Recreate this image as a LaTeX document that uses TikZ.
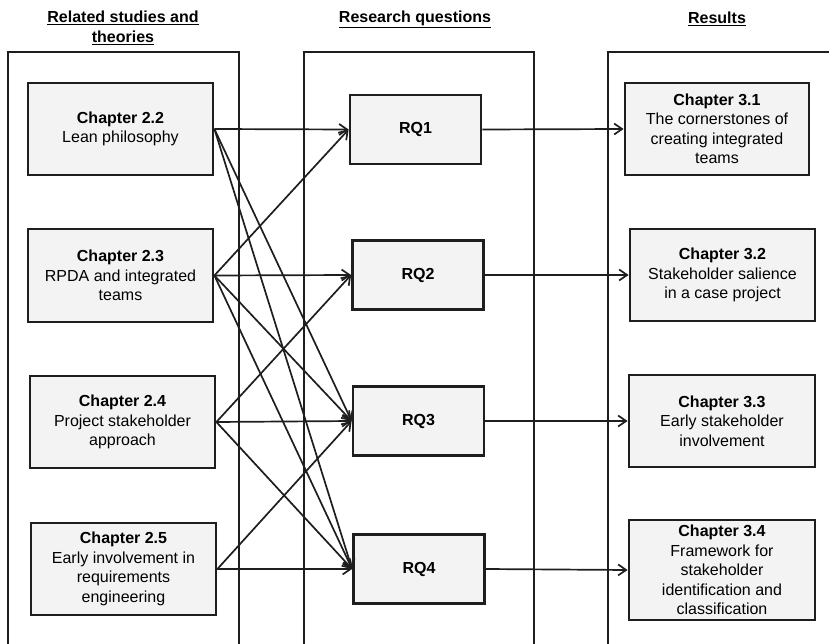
\documentclass[tikz,border=0pt]{standalone}
\usepackage{fontspec}
\setmainfont{Liberation Sans}
\usetikzlibrary{arrows.meta}
\definecolor{boxfill}{RGB}{242,243,242}
\definecolor{ink}{RGB}{30,30,30}
\begin{document}
\begin{tikzpicture}[x=1pt,y=-1pt,
  every node/.style={font=\fontsize{16}{19.5}\selectfont, inner sep=0pt},
  chap/.style={draw=ink, line width=2.8pt, fill=boxfill, align=center},
  rq/.style={chap, minimum width=131pt, minimum height=69pt, font=\fontsize{16}{19.5}\selectfont\bfseries},
  head/.style={align=center, font=\fontsize{16}{19.5}\selectfont\bfseries},
  column/.style={draw=ink, line width=1.8pt},
  arr/.style={draw=ink, line width=1.7pt, -{Straight Barb[length=8pt,width=11pt,line width=1.7pt]}}
]
\useasboundingbox (0,0) rectangle (829,644);

% headings
\node[head] (h1) at (123,28) {\underline{Related studies and}\\\underline{theories}};
\node[head] (h2) at (415,19) {\underline{Research questions}};
\node[head] (h3) at (717,19) {\underline{Results}};

% open column frames
\draw[column] (8,646) -- (8,52) -- (239,52) -- (239,646);
\draw[column] (304,646) -- (304,52) -- (534,52) -- (534,646);
\draw[column] (608,646) -- (608,52) -- (832,52);

% related studies and theories
\node[chap, minimum width=185pt, minimum height=92pt] (c22) at (120.5,129)
  {\textbf{Chapter 2.2}\\Lean philosophy};
\node[chap, minimum width=185pt, minimum height=93pt] (c23) at (120.5,275.5)
  {\textbf{Chapter 2.3}\\RPDA and integrated\\teams};
\node[chap, minimum width=185pt, minimum height=92pt] (c24) at (122.5,422)
  {\textbf{Chapter 2.4}\\Project stakeholder\\approach};
\node[chap, minimum width=185pt, minimum height=92pt] (c25) at (123.5,569)
  {\textbf{Chapter 2.5}\\Early involvement in\\requirements\\engineering};

% research questions
\node[rq] (rq1) at (415.5,129.5) {RQ1};
\node[rq] (rq2) at (418,275) {RQ2};
\node[rq] (rq3) at (418.5,421) {RQ3};
\node[rq] (rq4) at (419,569) {RQ4};

% results
\node[chap, minimum width=184pt, minimum height=92pt] (c31) at (717,129)
  {\textbf{Chapter 3.1}\\The cornerstones of\\creating integrated\\teams};
\node[chap, minimum width=185pt, minimum height=92pt] (c32) at (722.5,275)
  {\textbf{Chapter 3.2}\\Stakeholder salience\\in a case project};
\node[chap, minimum width=186pt, minimum height=92pt] (c33) at (722,421)
  {\textbf{Chapter 3.3}\\Early stakeholder\\involvement};
\node[chap, minimum width=186pt, minimum height=100pt] (c34) at (722,570)
  {\textbf{Chapter 3.4}\\Framework for\\stakeholder\\identification and\\classification};

% theories feeding the research questions
\draw[arr] (c22.east) -- (rq1.west);
\draw[arr] (c22.east) -- (rq3.west);
\draw[arr] (c22.east) -- (rq4.west);
\draw[arr] (c23.east) -- (rq1.west);
\draw[arr] (c23.east) -- (rq2.west);
\draw[arr] (c23.east) -- (rq3.west);
\draw[arr] (c23.east) -- (rq4.west);
\draw[arr] (c24.east) -- (rq2.west);
\draw[arr] (c24.east) -- (rq3.west);
\draw[arr] (c24.east) -- (rq4.west);
\draw[arr] (c25.east) -- (rq3.west);
\draw[arr] (c25.east) -- (rq4.west);

% research questions answered in the results
\draw[arr] (rq1.east) -- (c31.west);
\draw[arr] (rq2.east) -- (c32.west);
\draw[arr] (rq3.east) -- (c33.west);
\draw[arr] (rq4.east) -- (c34.west);
\end{tikzpicture}
\end{document}
